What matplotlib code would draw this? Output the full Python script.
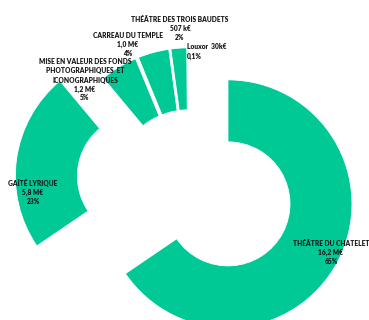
import matplotlib
matplotlib.use("Agg")
import matplotlib.pyplot as plt

names = ["THÉÂTRE DU CHATELET", "GAÎTÉ LYRIQUE",
         "MISE EN VALEUR DES FONDS\nPHOTOGRAPHIQUES  ET\nICONOGRAPHIQUES",
         "CARREAU DU TEMPLE", "THÉÂTRE DES TROIS BAUDETS", "Louxor"]
values_meur = [16.2, 5.8, 1.2, 1.0, 0.507, 0.030]
amount_labels = ["16,2 M€", "5,8 M€", "1,2 M€", "1,0 M€", "507 k€", "30k€"]
pct_labels = ["65%", "23%", "5%", "4%", "2%", "0,1%"]

GREEN = "#00C996"
TXT = "#1a1a1a"

W, H = 369, 320
CX, CY, R = 188.5, 183.0, 124.0  # pie centre in image pixels, radius in px

fig = plt.figure(figsize=(W / 100, H / 100), dpi=100)
ax = fig.add_axes([0, 0, 1, 1])

explode = [0.36, 0.40, 0.09, 0.09, 0.09, 0.09]
ax.pie(values_meur, startangle=90, counterclock=False, radius=1.0,
       colors=[GREEN] * len(values_meur), explode=explode,
       wedgeprops=dict(width=0.5, edgecolor="white", linewidth=0.6))

ax.set_xlim(-CX / R, (W - CX) / R)
ax.set_ylim(-(H - CY) / R, CY / R)
ax.set_aspect("equal")
ax.axis("off")


def px(x, y):
    return (x - CX) / R, (CY - y) / R


font = dict(family=["Lato", "DejaVu Sans"], fontsize=4.8, fontweight="heavy",
            color=TXT, va="center")

# (index, anchor x, first-line y, ha) in image pixels
label_pos = [(0, 331, 243, "center"), (1, 33, 183, "center"),
             (2, 85, 62, "center"), (3, 128, 35, "center"),
             (4, 180, 19.5, "center")]
STEP = 9.0
for i, x, y0, ha in label_pos:
    lines = names[i].split("\n") + [amount_labels[i], pct_labels[i]]
    for k, line in enumerate(lines):
        ax.text(*px(x, y0 + k * STEP), line, ha=ha, **font)

ax.text(*px(187, 46.7), f"{names[5]}  {amount_labels[5]}", ha="left", **font)
ax.text(*px(187, 56), pct_labels[5], ha="left", **font)

fig.savefig("out.png", dpi=100, facecolor="white")
